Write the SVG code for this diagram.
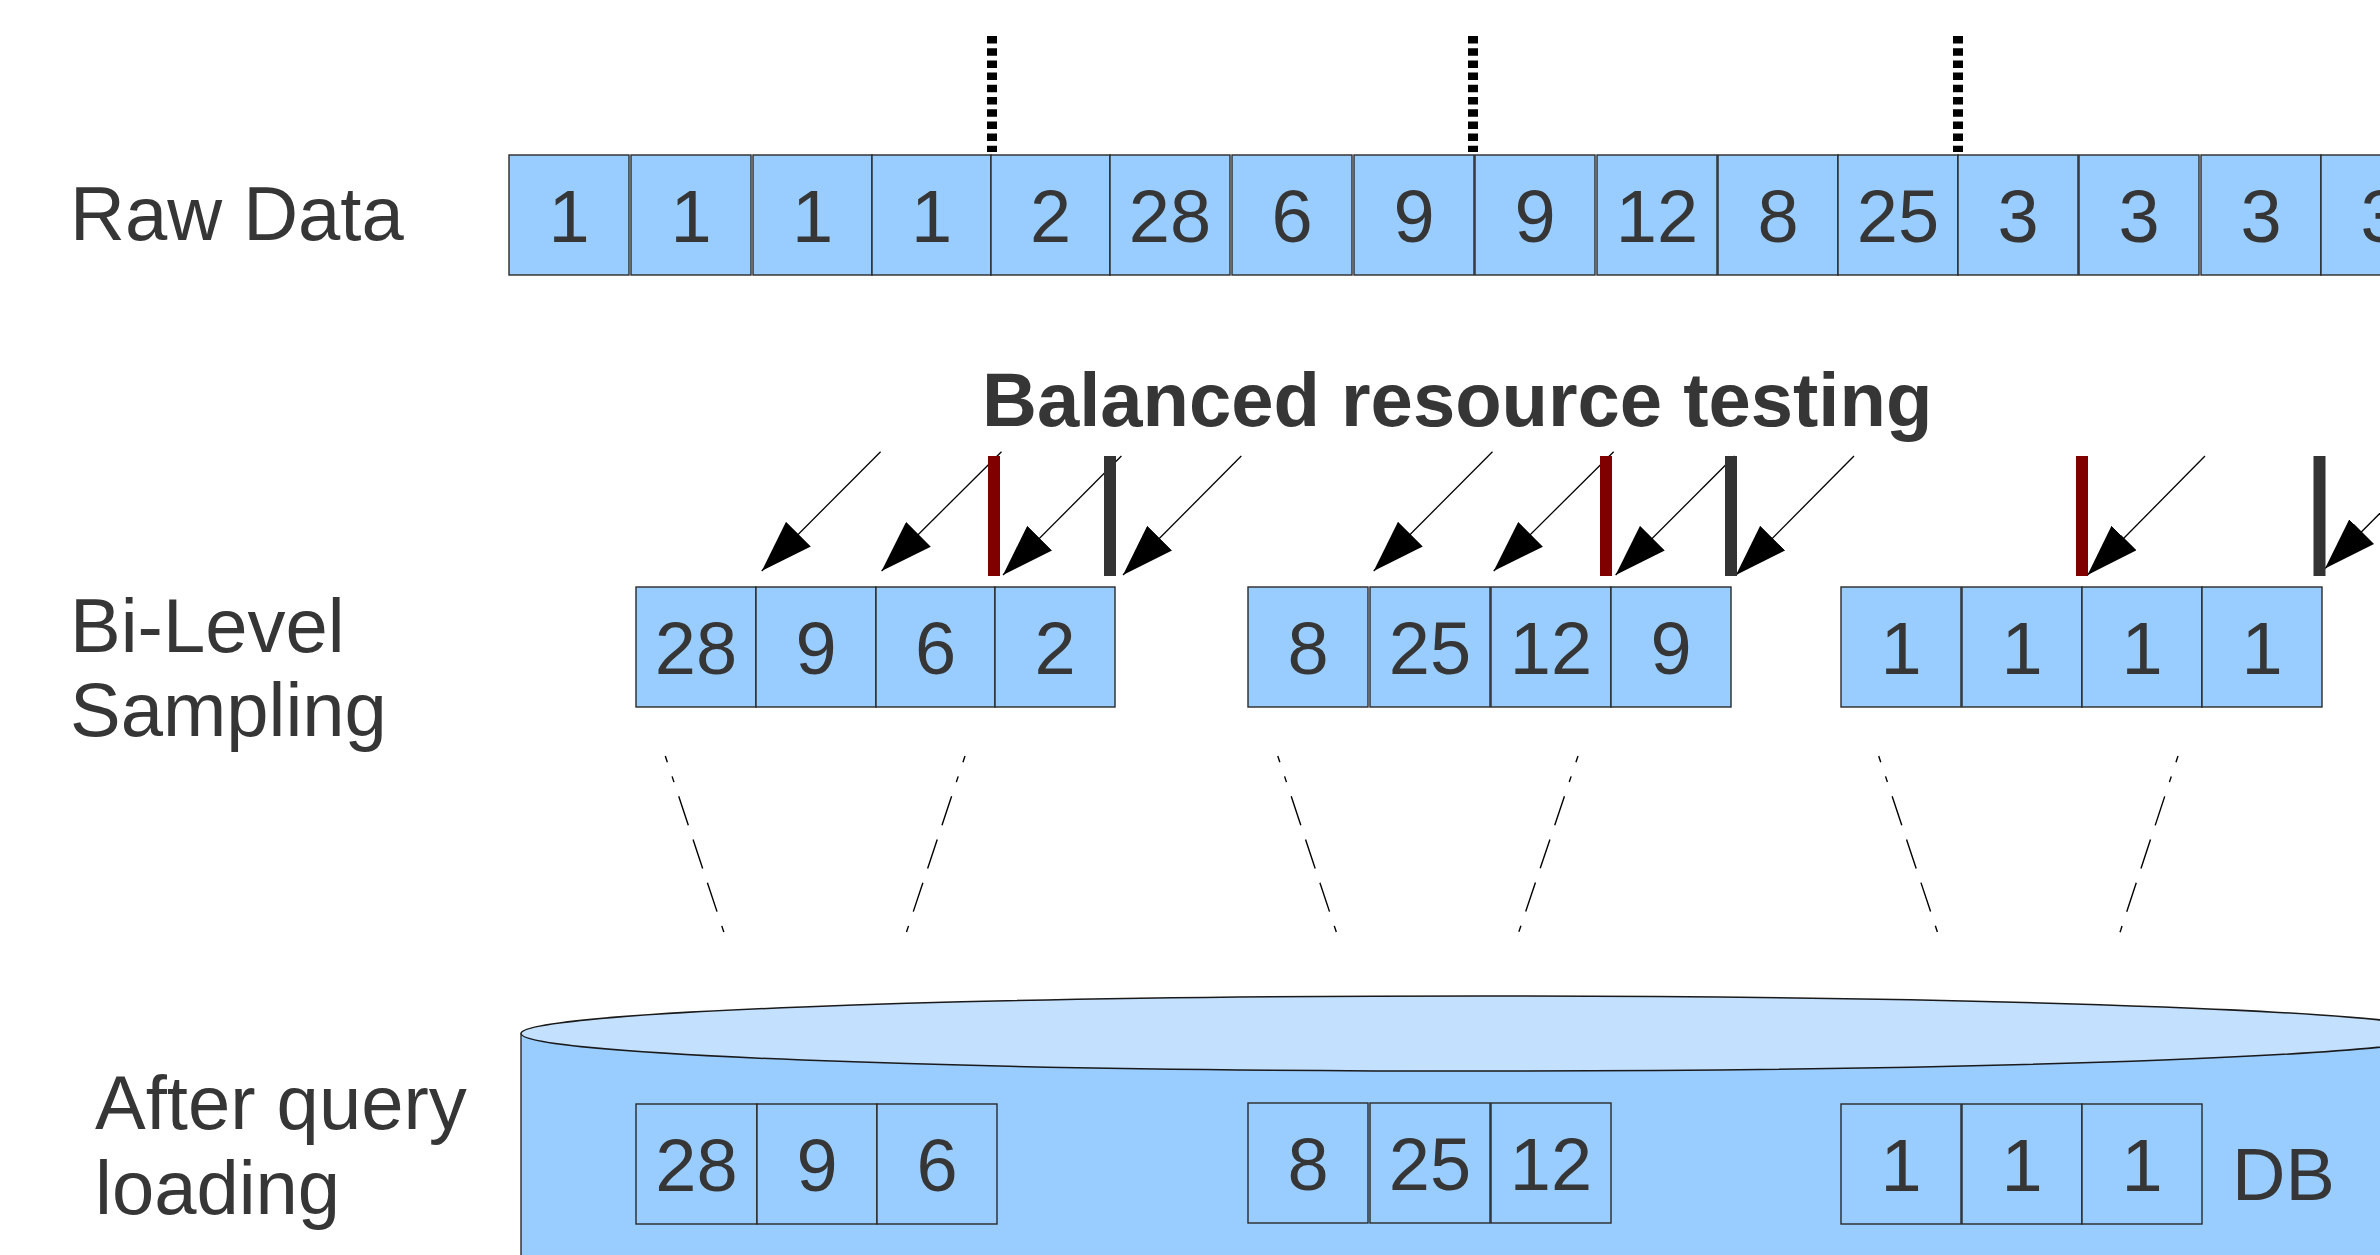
<svg xmlns="http://www.w3.org/2000/svg" width="2380" height="1255" viewBox="0 0 2380 1255">
<style>
.box{fill:#99ccff;stroke:#2a2a2a;stroke-width:1.4}
.num{font-family:"Liberation Sans",Arial,sans-serif;font-size:74px;fill:#363636;text-anchor:middle}
.lbl{font-family:"Liberation Sans",Arial,sans-serif;font-size:76px;fill:#363636}
.title{font-family:"Liberation Sans",Arial,sans-serif;font-size:76px;font-weight:bold;fill:#363636}
.arrow{stroke:#000;stroke-width:1.3;fill:none;marker-end:url(#head)}
.dash{stroke:#000;stroke-width:1.4;fill:none;stroke-dasharray:6.5 15 6 15 30.5 15 30.5 15 30.5 15}
.dot{stroke:#000;stroke-width:10;stroke-dasharray:7.5 4.7;fill:none}
.red{fill:#800000}
.dark{fill:#333333}
</style>
<defs>
<marker id="head" markerUnits="userSpaceOnUse" viewBox="0 0 52 35" markerWidth="52" markerHeight="35" refX="52" refY="17.5" orient="auto">
<path d="M0,0 L52,17.5 L0,35 Z" fill="#000"/>
</marker>
</defs>
<rect width="2380" height="1255" fill="#ffffff"/>

<g id="labels">
<text class="lbl" x="70" y="240">Raw Data</text>
<text class="lbl" x="70" y="652">Bi-Level</text>
<text class="lbl" x="70" y="736">Sampling</text>
<text class="lbl" x="95" y="1129">After query</text>
<text class="lbl" x="95" y="1214">loading</text>
<text class="title" x="982" y="426">Balanced resource testing</text>
</g>

<g id="partitions">
<line class="dot" x1="992" y1="36" x2="992" y2="152"/>
<line class="dot" x1="1473" y1="36" x2="1473" y2="152"/>
<line class="dot" x1="1958" y1="36" x2="1958" y2="152"/>
</g>

<g id="raw-data">
<g id="raw-1"><rect class="box" x="509" y="155" width="120" height="120"/><text class="num" x="569" y="242">1</text></g>
<g id="raw-2"><rect class="box" x="631" y="155" width="120" height="120"/><text class="num" x="691" y="242">1</text></g>
<g id="raw-3"><rect class="box" x="753" y="155" width="119" height="120"/><text class="num" x="812.5" y="242">1</text></g>
<g id="raw-4"><rect class="box" x="872" y="155" width="119" height="120"/><text class="num" x="931.5" y="242">1</text></g>
<g id="raw-5"><rect class="box" x="991" y="155" width="119" height="120"/><text class="num" x="1050.5" y="242">2</text></g>
<g id="raw-6"><rect class="box" x="1110" y="155" width="120" height="120"/><text class="num" x="1170" y="242">28</text></g>
<g id="raw-7"><rect class="box" x="1232" y="155" width="120" height="120"/><text class="num" x="1292" y="242">6</text></g>
<g id="raw-8"><rect class="box" x="1354" y="155" width="120" height="120"/><text class="num" x="1414" y="242">9</text></g>
<g id="raw-9"><rect class="box" x="1475" y="155" width="120" height="120"/><text class="num" x="1535" y="242">9</text></g>
<g id="raw-10"><rect class="box" x="1597" y="155" width="120" height="120"/><text class="num" x="1657" y="242">12</text></g>
<g id="raw-11"><rect class="box" x="1718" y="155" width="120" height="120"/><text class="num" x="1778" y="242">8</text></g>
<g id="raw-12"><rect class="box" x="1838" y="155" width="120" height="120"/><text class="num" x="1898" y="242">25</text></g>
<g id="raw-13"><rect class="box" x="1958" y="155" width="120" height="120"/><text class="num" x="2018" y="242">3</text></g>
<g id="raw-14"><rect class="box" x="2079" y="155" width="120" height="120"/><text class="num" x="2139" y="242">3</text></g>
<g id="raw-15"><rect class="box" x="2201" y="155" width="120" height="120"/><text class="num" x="2261" y="242">3</text></g>
<g id="raw-16"><rect class="box" x="2321" y="155" width="120" height="120"/><text class="num" x="2381" y="242">3</text></g>
</g>

<g id="bilevel">
<g id="bl-1"><rect class="box" x="636" y="587" width="120" height="120"/><text class="num" x="696" y="674">28</text></g>
<g id="bl-2"><rect class="box" x="756" y="587" width="120" height="120"/><text class="num" x="816" y="674">9</text></g>
<g id="bl-3"><rect class="box" x="876" y="587" width="119" height="120"/><text class="num" x="935.5" y="674">6</text></g>
<g id="bl-4"><rect class="box" x="995" y="587" width="120" height="120"/><text class="num" x="1055" y="674">2</text></g>
<g id="bl-5"><rect class="box" x="1248" y="587" width="120" height="120"/><text class="num" x="1308" y="674">8</text></g>
<g id="bl-6"><rect class="box" x="1370" y="587" width="120" height="120"/><text class="num" x="1430" y="674">25</text></g>
<g id="bl-7"><rect class="box" x="1491" y="587" width="120" height="120"/><text class="num" x="1551" y="674">12</text></g>
<g id="bl-8"><rect class="box" x="1611" y="587" width="120" height="120"/><text class="num" x="1671" y="674">9</text></g>
<g id="bl-9"><rect class="box" x="1841" y="587" width="120" height="120"/><text class="num" x="1901" y="674">1</text></g>
<g id="bl-10"><rect class="box" x="1962" y="587" width="120" height="120"/><text class="num" x="2022" y="674">1</text></g>
<g id="bl-11"><rect class="box" x="2082" y="587" width="120" height="120"/><text class="num" x="2142" y="674">1</text></g>
<g id="bl-12"><rect class="box" x="2202" y="587" width="120" height="120"/><text class="num" x="2262" y="674">1</text></g>
</g>

<g id="db">
<path d="M521,1033.5 L521,1262 L2450,1262 L2450,1033.5 Z" fill="#99ccff" stroke="none"/>
<line x1="521" y1="1033.5" x2="521" y2="1262" stroke="#2a2a2a" stroke-width="1.4"/>
<ellipse cx="1483" cy="1033.5" rx="962" ry="37.5" fill="#c3e0ff" stroke="#1a1a1a" stroke-width="1.5"/>
<text class="lbl" x="2232" y="1200" style="font-size:74px">DB</text>
<g id="db-1"><rect class="box" x="636" y="1104" width="121" height="120"/><text class="num" x="696.5" y="1191">28</text></g>
<g id="db-2"><rect class="box" x="757" y="1104" width="120" height="120"/><text class="num" x="817" y="1191">9</text></g>
<g id="db-3"><rect class="box" x="877" y="1104" width="120" height="120"/><text class="num" x="937" y="1191">6</text></g>
<g id="db-4"><rect class="box" x="1248" y="1103" width="120" height="120"/><text class="num" x="1308" y="1190">8</text></g>
<g id="db-5"><rect class="box" x="1370" y="1103" width="120" height="120"/><text class="num" x="1430" y="1190">25</text></g>
<g id="db-6"><rect class="box" x="1491" y="1103" width="120" height="120"/><text class="num" x="1551" y="1190">12</text></g>
<g id="db-7"><rect class="box" x="1841" y="1104" width="120" height="120"/><text class="num" x="1901" y="1191">1</text></g>
<g id="db-8"><rect class="box" x="1962" y="1104" width="120" height="120"/><text class="num" x="2022" y="1191">1</text></g>
<g id="db-9"><rect class="box" x="2082" y="1104" width="120" height="120"/><text class="num" x="2142" y="1191">1</text></g>
</g>

<g id="connectors">
<line class="arrow" x1="880.6" y1="451.7" x2="761.7" y2="571"/>
<line class="arrow" x1="1001.5" y1="451.7" x2="881.6" y2="571"/>
<line class="arrow" x1="1121.4" y1="456" x2="1003" y2="575"/>
<line class="arrow" x1="1241.3" y1="456" x2="1123" y2="575"/>
<line class="arrow" x1="1492.5" y1="451.7" x2="1373.7" y2="571"/>
<line class="arrow" x1="1613.7" y1="451.7" x2="1493.7" y2="571"/>
<line class="arrow" x1="1734.6" y1="456" x2="1615.6" y2="575"/>
<line class="arrow" x1="1854" y1="456" x2="1736" y2="575"/>
<line class="arrow" x1="2205" y1="456" x2="2087.5" y2="575"/>
<line class="arrow" x1="2444" y1="449" x2="2325" y2="568.5"/>
<line class="dash" x1="665.3" y1="756" x2="723.9" y2="932.3"/>
<line class="dash" x1="965" y1="756" x2="906.4" y2="932.3"/>
<line class="dash" x1="1277.8" y1="756" x2="1336.4" y2="932.3"/>
<line class="dash" x1="1578" y1="756" x2="1518.7" y2="932.3"/>
<line class="dash" x1="1878.7" y1="756" x2="1937.5" y2="932.3"/>
<line class="dash" x1="2178" y1="756" x2="2120" y2="932.3"/>
</g>

<g id="bars">
<rect class="red" x="988" y="456" width="12" height="120"/>
<rect class="dark" x="1104" y="456" width="12" height="120"/>
<rect class="red" x="1600" y="456" width="12" height="120"/>
<rect class="dark" x="1725" y="456" width="12" height="120"/>
<rect class="red" x="2076" y="456" width="12" height="120"/>
<rect class="dark" x="2313.5" y="456" width="12" height="120"/>
</g>
</svg>
